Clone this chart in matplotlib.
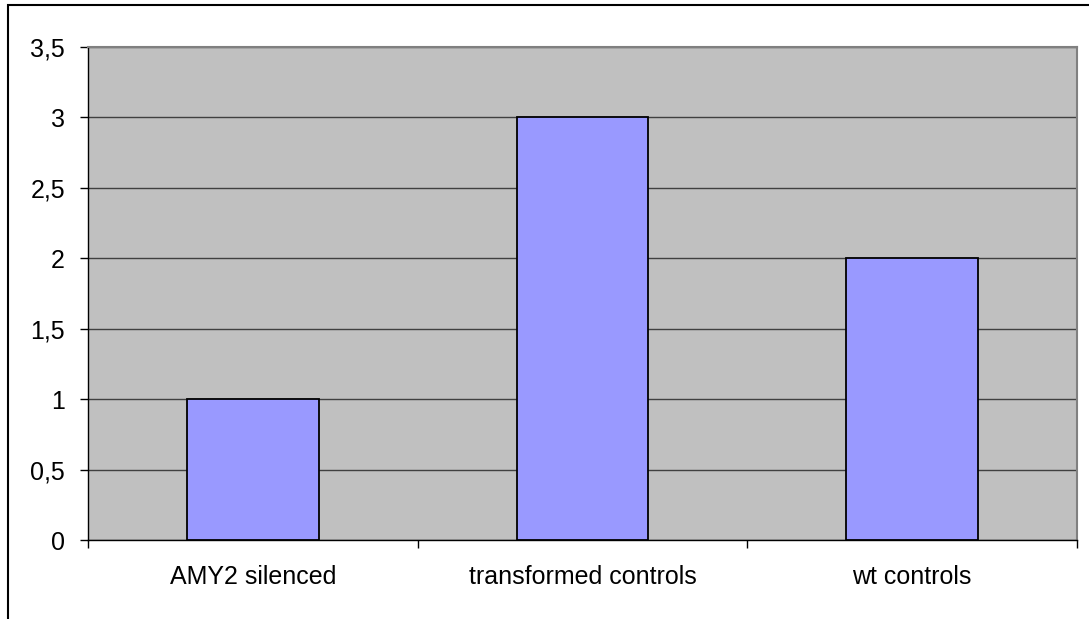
import matplotlib
matplotlib.use("Agg")
import matplotlib.pyplot as plt
from matplotlib.patches import Rectangle
from matplotlib.ticker import FixedLocator, FuncFormatter
import numpy as np

categories = ["AMY2 silenced", "transformed controls", "wt controls"]
values = [1, 3, 2]
yticks = [0, 0.5, 1, 1.5, 2, 2.5, 3, 3.5]

plt.rcParams['font.family'] = ['Liberation Sans', 'DejaVu Sans']

fig = plt.figure(figsize=(10.89, 6.19), dpi=100)
fig.patch.set_facecolor('white')
fig.add_artist(Rectangle((8/1089, -0.1), 1.2, 1.1 - 5/619, transform=fig.transFigure,
                         fill=False, edgecolor='black', linewidth=1.5))

ax = fig.add_axes([88/1089, 1 - 540/619, (1077-88)/1089, (540-47)/619])
ax.set_facecolor('#C0C0C0')
x = np.arange(len(categories))
ax.bar(x, values, width=0.4, color='#9999FF', edgecolor='black', linewidth=1.3, zorder=3)
ax.set_xlim(-0.5, len(categories) - 0.5)
ax.set_ylim(0, 3.5)
ax.yaxis.set_major_locator(FixedLocator(yticks))
ax.yaxis.set_major_formatter(FuncFormatter(lambda v, p: ('%g' % v).replace('.', ',')))
ax.grid(axis='y', color='#404040', linewidth=1, zorder=1)
ax.set_axisbelow(True)

ax.set_xticks(np.arange(len(categories) + 1) - 0.5)
ax.set_xticklabels([])
ax.set_xticks(x, minor=True)
ax.set_xticklabels(categories, minor=True)
ax.tick_params(axis='x', which='minor', length=0, pad=18, labelsize=18)
ax.tick_params(axis='x', which='major', length=6, width=1, color='black', direction='out')
ax.tick_params(axis='y', length=6, width=1, color='black', direction='out', labelsize=18, pad=10.5)

for side in ['top', 'right']:
    ax.spines[side].set_color('#808080')
    ax.spines[side].set_linewidth(1.5)
ax.spines['left'].set_color('black')
ax.spines['bottom'].set_color('black')
ax.spines['left'].set_linewidth(1)
ax.spines['bottom'].set_linewidth(1)

fig.savefig('out.png', dpi=100)
